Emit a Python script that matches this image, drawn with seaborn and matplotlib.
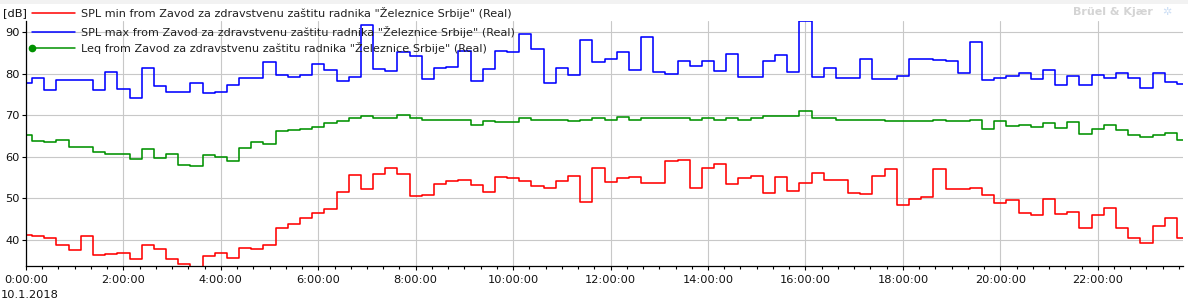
import numpy as np
import pandas as pd
import matplotlib
matplotlib.use("Agg")
import matplotlib.pyplot as plt
import seaborn as sns
from matplotlib.lines import Line2D
from matplotlib.patches import Rectangle
from matplotlib.ticker import MultipleLocator, FuncFormatter

# ---------------- data (15-minute intervals, 10.1.2018) ----------------
step_minutes = 15

spl_min = [41.1, 40.9, 40.6, 38.7, 37.5, 40.9, 36.3, 36.6, 37.0, 35.4, 38.7, 37.8, 35.4, 34.2, 33.2, 36.2,
           37.0, 35.8, 38.2, 37.8, 38.7, 43.0, 43.8, 45.4, 46.4, 47.4, 51.5, 55.6, 52.2, 55.8, 57.3,
           55.8, 50.6, 50.8, 53.4, 54.2, 54.4, 53.2, 51.5, 55.1, 54.9, 54.2, 53.0, 52.5, 54.2, 55.4, 49.1,
           57.3, 53.9, 54.9, 55.1, 53.7, 53.7, 59.0, 59.2, 52.5, 57.3, 58.2, 53.4, 54.9, 55.4, 51.3, 55.1, 51.8,
           53.7, 56.1, 54.4, 54.4, 51.3, 51.0, 55.4, 57.0, 48.4, 49.8, 50.3, 57.0, 52.2, 52.2, 52.5, 50.8,
           48.9, 49.6, 46.5, 46.0, 49.8, 46.2, 46.7, 42.9, 46.0, 47.7, 43.0, 40.6, 39.4, 43.5, 45.4, 40.4]

spl_max = [77.8, 79.0, 76.2, 78.6, 78.6, 78.6, 76.2, 80.4, 76.3, 74.2, 81.5, 77.0, 75.7, 75.7, 77.8, 75.4,
           75.6, 77.4, 79.0, 79.0, 82.8, 79.7, 79.2, 79.8, 82.3, 80.9, 78.2, 79.2, 91.8, 81.1, 80.6,
           85.2, 84.3, 78.7, 81.4, 81.6, 85.4, 78.2, 81.1, 85.4, 85.2, 89.5, 85.9, 77.8, 81.4, 79.7, 88.1,
           82.8, 83.5, 85.2, 80.9, 88.8, 80.4, 79.9, 83.0, 81.8, 83.0, 80.6, 84.7, 79.2, 79.2, 83.0, 84.5, 80.4,
           92.7, 79.2, 81.4, 79.0, 79.0, 83.5, 78.7, 78.7, 79.4, 83.5, 83.5, 83.3, 83.0, 80.2, 87.6, 78.5,
           79.0, 79.4, 80.2, 78.7, 80.9, 77.3, 79.4, 77.3, 79.7, 79.0, 80.2, 79.0, 76.6, 80.2, 78.0, 77.5]

leq = [65.2, 63.8, 63.5, 64.0, 62.3, 62.3, 61.1, 60.7, 60.7, 59.4, 61.8, 59.7, 60.6, 58.0, 57.7, 60.4,
       60.1, 59.0, 62.1, 63.5, 63.0, 66.2, 66.4, 66.6, 67.1, 68.1, 68.6, 69.3, 69.8, 69.3, 69.3,
       70.0, 69.3, 68.8, 68.8, 68.8, 68.8, 67.6, 68.6, 68.3, 68.3, 69.3, 69.0, 68.8, 68.8, 68.6, 68.8,
       69.3, 68.8, 69.5, 68.8, 69.3, 69.3, 69.3, 69.3, 69.0, 69.3, 69.0, 69.3, 69.0, 69.3, 69.8, 69.8, 69.8,
       71.0, 69.3, 69.3, 68.8, 68.8, 68.8, 68.8, 68.6, 68.6, 68.6, 68.6, 68.8, 68.6, 68.6, 69.0, 66.6,
       68.6, 67.4, 67.8, 67.1, 68.1, 66.9, 68.3, 65.4, 66.6, 67.8, 66.4, 65.2, 64.7, 65.2, 65.7, 64.0]

series_names = [
    'SPL min from Zavod za zdravstvenu zaštitu radnika "Železnice Srbije" (Real)',
    'SPL max from Zavod za zdravstvenu zaštitu radnika "Železnice Srbije" (Real)',
    'Leq from Zavod za zdravstvenu zaštitu radnika "Železnice Srbije" (Real)',
]
series_colors = ["#ff0000", "#0000ff", "#009100"]
date_label = "10.1.2018"
unit_label = "[dB]"
brand_label = "Brüel & Kjær"

# ---------------- build long-form table ----------------
hours = np.arange(len(leq)) * step_minutes / 60.0
frames = []
for name, vals in zip(series_names, [spl_min, spl_max, leq]):
    frames.append(pd.DataFrame({"hour": hours, "dB": vals, "series": name}))
df = pd.concat(frames, ignore_index=True)

# ---------------- figure ----------------
sns.set_theme(style="white")
plt.rcParams["font.family"] = ["DejaVu Sans"]

W, H = 1188, 303
fig = plt.figure(figsize=(W / 100, H / 100), dpi=100)
fig.patch.set_facecolor("white")
left_px, right_px, top_px, bottom_px = 26, 1183, 21, 266
ax = fig.add_axes([left_px / W, 1 - bottom_px / H, (right_px - left_px) / W, (bottom_px - top_px) / H])

sns.lineplot(data=df, x="hour", y="dB", hue="series", hue_order=series_names,
             palette=dict(zip(series_names, series_colors)), estimator=None, sort=False,
             drawstyle="steps-mid", linewidth=1.15, legend=False, ax=ax)

ax.set_xlim(0, 23.75)
ax.set_ylim(33.76, 92.7)
ax.set_xlabel("")
ax.set_ylabel("")

ax.xaxis.set_major_locator(MultipleLocator(2))
ax.xaxis.set_minor_locator(MultipleLocator(1 / 3))
ax.xaxis.set_major_formatter(FuncFormatter(lambda v, p: f"{int(round(v))}:00:00"))
ax.yaxis.set_major_locator(MultipleLocator(10))

ax.set_axisbelow(True)
ax.grid(True, which="major", color="#c8c8c8", linewidth=0.8)
for s in ["top", "right"]:
    ax.spines[s].set_visible(False)
for s in ["left", "bottom"]:
    ax.spines[s].set_color("black")
    ax.spines[s].set_linewidth(0.9)

ax.tick_params(axis="x", which="major", length=3.2, width=0.8, color="black",
               labelsize=8.2, pad=3, labelcolor="#101010", bottom=True)
ax.tick_params(axis="x", which="minor", length=2.2, width=0.8, color="black", bottom=True)
ax.tick_params(axis="y", which="major", length=3.2, width=0.8, color="black",
               labelsize=8.2, pad=1.5, labelcolor="#101010", left=True)

# top strip
fig.add_artist(Rectangle((0, 1 - 4 / H), 1, 4 / H, transform=fig.transFigure,
                         facecolor="#f2f2f2", edgecolor="none"))

# unit label
fig.text(3 / W, 1 - 13 / H, unit_label, ha="left", va="center", fontsize=8.2, color="#101010")

# legend (manual, in figure pixel coordinates)
leg_y = [13.3, 32.3, 48.3]
for yv, name, col, i in zip(leg_y, series_names, series_colors, range(3)):
    fig.add_artist(Line2D([32 / W, 75 / W], [1 - yv / H, 1 - yv / H], transform=fig.transFigure,
                          color=col, linewidth=1.1))
    if i == 2:
        fig.add_artist(Line2D([32 / W], [1 - yv / H], transform=fig.transFigure, color=col,
                              marker="o", markersize=4.5, linestyle="none"))
    fig.text(81 / W, 1 - yv / H, name, ha="left", va="center", fontsize=8.15, color="#202020")

# date
fig.text(1 / W, 1 - 295 / H, date_label, ha="left", va="center", fontsize=8.2, color="#101010")

# brand mark
fig.text(1153 / W, 1 - 12 / H, brand_label, ha="right", va="center", fontsize=8,
         fontweight="bold", color="#d4d4d4")
fig.text(1167 / W, 1 - 12 / H, "✲", ha="center", va="center", fontsize=8, color="#cfe0f5")

fig.savefig("out.png", dpi=100)
